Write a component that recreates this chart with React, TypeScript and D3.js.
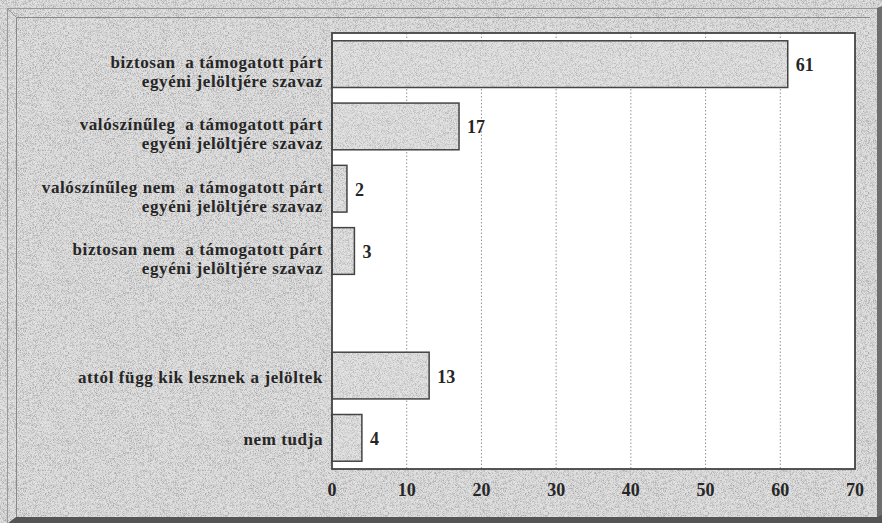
import React from "react";
import * as d3 from "d3";

const categories: string[][] = [
  ["biztosan  a támogatott párt", "egyéni jelöltjére szavaz"],
  ["valószínűleg  a támogatott párt", "egyéni jelöltjére szavaz"],
  ["valószínűleg nem  a támogatott párt", "egyéni jelöltjére szavaz"],
  ["biztosan nem  a támogatott párt", "egyéni jelöltjére szavaz"],
  [],
  ["attól függ kik lesznek a jelöltek"],
  ["nem tudja"],
];
const values: (number | null)[] = [61, 17, 2, 3, null, 13, 4];
const xTicks: number[] = [0, 10, 20, 30, 40, 50, 60, 70];

const W = 882;
const H = 523;
const plot = { left: 332, right: 855, top: 33, bottom: 469 };
const FONT = "'Liberation Serif', 'Times New Roman', serif";

export default function App() {
  const x = d3.scaleLinear().domain([0, 70]).range([plot.left, plot.right]);
  const y = d3
    .scaleBand<number>()
    .domain(d3.range(categories.length))
    .range([plot.top, plot.bottom])
    .paddingInner(0.25)
    .paddingOuter(0.125);
  const bw = y.bandwidth();

  return (
    <svg
      width={W}
      height={H}
      style={{ position: "absolute", left: 0, top: 0, display: "block" }}
      fontFamily={FONT}
    >
      <defs>
        <filter id="noise" x="0" y="0" width="100%" height="100%">
          <feTurbulence type="fractalNoise" baseFrequency="1.6" numOctaves="1" seed="4" result="t" />
          <feColorMatrix
            in="t"
            type="matrix"
            values="0 0 0 0 0.3  0 0 0 0 0.3  0 0 0 0 0.3  2.2 0 0 0 -0.95"
          />
        </filter>
      </defs>
      {/* background */}
      <rect x={0} y={0} width={W} height={H} fill="#e0e0e0" />
      <rect x={0} y={0} width={W} height={H} fill="#000" filter="url(#noise)" />
      {/* bevel frame */}
      <line x1={7.5} y1={8} x2={7.5} y2={523} stroke="#999" strokeWidth={1} />
      <line x1={7.5} y1={8.5} x2={877} y2={8.5} stroke="#999" strokeWidth={1} />
      <line x1={16.5} y1={17.5} x2={16.5} y2={517} stroke="#888" strokeWidth={1} />
      <line x1={16.5} y1={17.5} x2={870} y2={17.5} stroke="#888" strokeWidth={1} />
      <line x1={7.5} y1={8.5} x2={16.5} y2={17.5} stroke="#999" strokeWidth={1} />
      <polygon points={`877,8 882,6 882,523 877,517`} fill="#6e6e6e" />
      <polygon points={`8,523 16,517 877,517 882,515 882,523`} fill="#555" />

      {/* plot area */}
      <rect
        x={plot.left}
        y={plot.top}
        width={plot.right - plot.left}
        height={plot.bottom - plot.top}
        fill="#ffffff"
      />
      {xTicks.slice(1, -1).map((t) => (
        <line
          key={t}
          x1={x(t)}
          x2={x(t)}
          y1={plot.top}
          y2={plot.bottom}
          stroke="#777"
          strokeWidth={0.8}
          strokeDasharray="1.5,2"
        />
      ))}
      {/* bars */}
      {values.map((v, i) =>
        v == null ? null : (
          <g key={i}>
            <rect
              x={x(0)}
              y={y(i)!}
              width={x(v) - x(0)}
              height={bw}
              fill="#e2e2e2"
            />
            <rect
              x={x(0)}
              y={y(i)!}
              width={x(v) - x(0)}
              height={bw}
              fill="#000"
              filter="url(#noise)"
              opacity={0.8}
            />
            <rect
              x={x(0)}
              y={y(i)!}
              width={x(v) - x(0)}
              height={bw}
              fill="none"
              stroke="#444"
              strokeWidth={1.5}
            />
            <text
              x={x(v) + 8}
              y={y(i)! + bw / 2 + 7}
              fontSize={18}
              fontWeight="bold"
              fill="#262626"
            >
              {v}
            </text>
          </g>
        )
      )}
      <rect
        x={plot.left}
        y={plot.top}
        width={plot.right - plot.left}
        height={plot.bottom - plot.top}
        fill="none"
        stroke="#444"
        strokeWidth={1.8}
      />
      {/* category labels */}
      {categories.map((lines, i) =>
        lines.map((ln, j) => (
          <text
            key={`${i}-${j}`}
            x={323}
            y={
              y(i)! + bw / 2 + (lines.length === 1 ? 7 : j === 0 ? 4 : 23)
            }
            textAnchor="end"
            fontSize={17}
            letterSpacing={0.6}
            fontWeight="bold"
            fill="#262626"
            style={{ whiteSpace: "pre" }}
          >
            {ln}
          </text>
        ))
      )}
      {/* x tick labels */}
      {xTicks.map((t) => (
        <text
          key={t}
          x={x(t)}
          y={496}
          textAnchor="middle"
          fontSize={18}
          fontWeight="bold"
          fill="#262626"
        >
          {t}
        </text>
      ))}
    </svg>
  );
}
